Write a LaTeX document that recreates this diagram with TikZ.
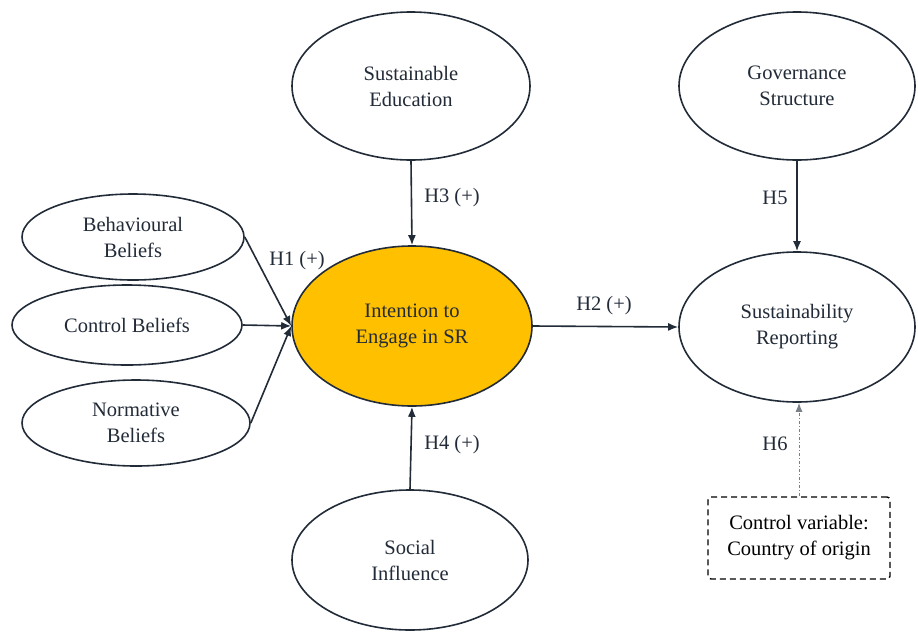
\documentclass[tikz,border=0pt]{standalone}
\usepackage{fontspec}
\setmainfont{LiberationSerif}[Extension=.ttf,UprightFont=*-Regular]
\usetikzlibrary{shapes.geometric,arrows.meta}
\definecolor{ink}{HTML}{222B38}
\definecolor{amber}{HTML}{FFC000}
\begin{document}
\begin{tikzpicture}[x=1pt,y=-1pt,
  every node/.style={font=\fontsize{20.5}{26}\selectfont,text=ink,align=center},
  con/.style={ellipse,draw=ink,line width=1.6pt,inner sep=0pt,fill=white},
  lab/.style={inner sep=1pt},
  link/.style={draw=ink,line width=1.6pt,-{Latex[length=10pt,width=8pt]}}]
  \useasboundingbox (0,0) rectangle (918,632);
  % constructs
  \node[con,minimum width=238pt,minimum height=148pt] (sedu) at (411,86) {Sustainable\\Education};
  \node[con,minimum width=236pt,minimum height=148pt] (gov) at (797,86) {Governance\\Structure};
  \node[con,minimum width=222pt,minimum height=86pt] (bb) at (133,237) {Behavioural\\Beliefs};
  \node[con,minimum width=230pt,minimum height=80pt] (cb) at (127,325) {Control Beliefs};
  \node[con,minimum width=228pt,minimum height=86pt] (nb) at (136,423) {Normative\\Beliefs};
  \node[con,fill=amber,minimum width=240pt,minimum height=160pt] (isr) at (412,326) {Intention to\\Engage in SR};
  \node[con,minimum width=236pt,minimum height=150pt] (sr) at (797,327) {Sustainability\\Reporting};
  \node[con,minimum width=236pt,minimum height=140pt] (soc) at (410,560) {Social\\Influence};
  \node[draw=black,dash pattern=on 6pt off 4pt,line width=1.4pt,rounded corners=3pt,minimum width=182pt,minimum height=82pt,text=black] (ctrl) at (799,538) {Control variable:\\Country of origin};
  % paths
  \foreach \src in {bb,cb,nb}
    \draw[link] (\src.east) -- (isr.west);
  \draw[link] (sedu.south) -- (isr.north);
  \draw[link] (soc.north) -- (isr.south);
  \draw[link] (isr.east) -- (sr.west);
  \draw[link] (gov.south) -- (sr.north);
  \draw[draw=ink!60,line width=1pt,dash dot,-{Latex[length=9pt,width=7pt]}] (ctrl.north) -- (ctrl.north |- sr.south);
  % labels
  \node[lab] (h1) at (297,261) {H1 (+)};
  \node[lab] (h2) at (604,306) {H2 (+)};
  \node[lab] (h3) at (452,198) {H3 (+)};
  \node[lab] (h4) at (452,445) {H4 (+)};
  \node[lab] (h5) at (775,198) {H5};
  \node[lab] (h6) at (775,444) {H6};
\end{tikzpicture}
\end{document}
